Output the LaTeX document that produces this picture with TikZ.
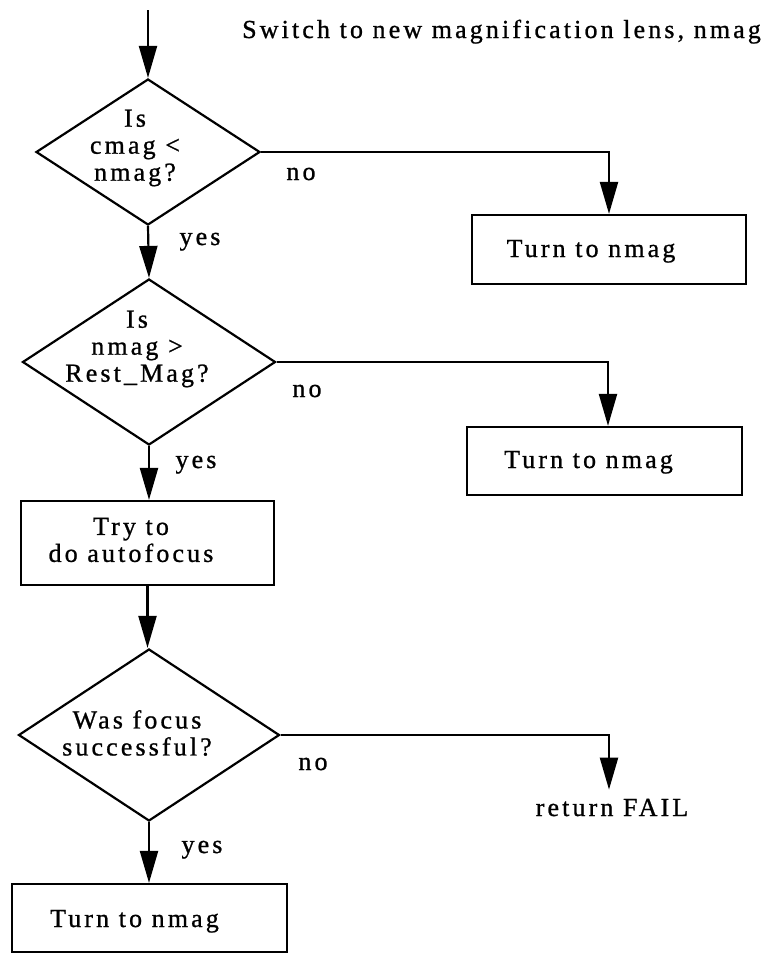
\documentclass[tikz,border=0pt]{standalone}
\usepackage{fontspec}
\setmainfont{Liberation Serif}[LetterSpace=12, FakeBold=0.9]
\usetikzlibrary{shapes.geometric,arrows.meta}

\tikzset{
  flow/.style={line width=2.2pt, -{Triangle[length=32pt,width=18pt]}},
  decision/.style={diamond, draw, line width=2.2pt, inner sep=0pt},
  stepbox/.style={rectangle, draw, line width=2.2pt, inner sep=0pt},
  txt/.style={inner sep=0pt, align=center, font=\fontsize{26}{27}\selectfont},
  lbl/.style={inner sep=0pt, anchor=base, font=\fontsize{26}{27}\selectfont}
}

\begin{document}
\begin{tikzpicture}[x=1pt, y=-1pt]
  \useasboundingbox (0,0) rectangle (772,954);

  % title
  \node[lbl, anchor=base west] (title) at (242,38) {Switch to new magnification lens, nmag};

  % shapes
  \coordinate (start) at (148,10);
  \node[decision, minimum width=224pt, minimum height=146pt] (d1) at (148,152) {};
  \node[decision, minimum width=253pt, minimum height=166pt] (d2) at (149,362) {};
  \node[stepbox, minimum width=253pt, minimum height=84pt] (b3) at (147.5,543) {};
  \node[decision, minimum width=261pt, minimum height=172pt] (d3) at (149,735) {};
  \node[stepbox, minimum width=275pt, minimum height=68pt] (b4) at (149.5,918) {};
  \node[stepbox, minimum width=274pt, minimum height=69pt] (b1) at (609,249.5) {};
  \node[stepbox, minimum width=275pt, minimum height=68pt] (b2) at (604.5,461) {};

  % texts inside shapes
  \node[txt] (d1t) at (135,148) {Is\\cmag <\\nmag?};
  \node[txt] (d2t) at (137,349) {Is\\nmag >\\Rest\_Mag?};
  \node[txt] (d3t) at (137,733) {Was focus\\successful?};
  \node[txt] (b3t) at (131,540) {Try to\\do autofocus};
  \node[lbl] (b1t) at (591,257) {Turn to nmag};
  \node[lbl] (b2t) at (588.5,468) {Turn to nmag};
  \node[lbl] (b4t) at (134.5,927) {Turn to nmag};
  \node[lbl] (rf) at (612,816) {return FAIL};

  % branch labels
  \node[lbl] (no1) at (301,180) {no};
  \node[lbl] (yes1) at (200,245) {yes};
  \node[lbl] (no2) at (307,397) {no};
  \node[lbl] (yes2) at (196,468) {yes};
  \node[lbl] (no3) at (313,770) {no};
  \node[lbl] (yes3) at (202,853) {yes};

  % connectors
  \draw[flow] (start) -- (d1.north);
  \draw[flow] (d1.south) -- (d2.north);
  \draw[flow] (d2.south) -- (d2.south |- b3.north);
  \draw[flow] (b3.south) -- (b3.south |- d3.north);
  \draw[flow] (d3.south) -- (d3.south |- b4.north);
  \draw[flow] (d1.east) -| (b1.north);
  \draw[flow] (d2.east) -| ([xshift=3.5pt]b2.north);
  \draw[flow] (d3.east) -| ([xshift=-3pt,yshift=9pt]rf.north);
\end{tikzpicture}
\end{document}
